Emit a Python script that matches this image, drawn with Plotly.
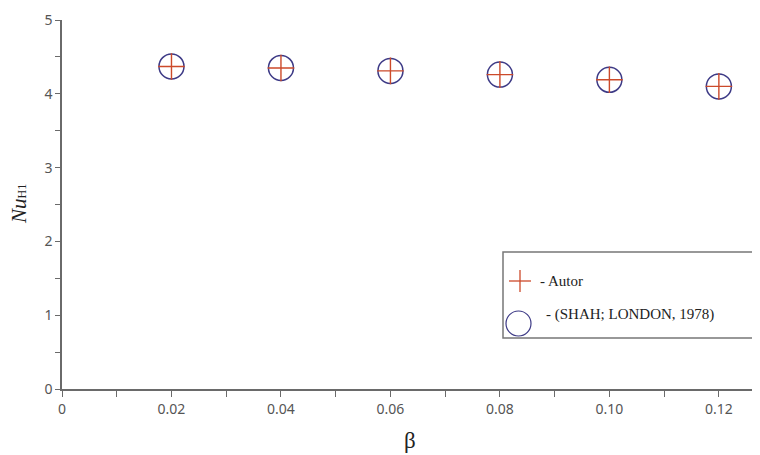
import plotly.graph_objects as go

beta = [0.02, 0.04, 0.06, 0.08, 0.10, 0.12]
nu_autor = [4.37, 4.35, 4.31, 4.26, 4.19, 4.10]
nu_shah = [4.37, 4.35, 4.31, 4.26, 4.19, 4.10]
x_tickvals = [0, 0.02, 0.04, 0.06, 0.08, 0.10, 0.12]
x_ticktext = ["0", "0.02", "0.04", "0.06", "0.08", "0.10", "0.12"]
y_tickvals = [0, 1, 2, 3, 4, 5]

circ_col = "#3d3a86"
cross_col = "#cc4a2a"
axis_col = "#6a6a6a"
tick_font = dict(family="Noto Sans", size=14, color="#555555")

# page has an 8px body margin: figure occupies page pixels 8..760, 8..455
OFF = 8
W, H = 752, 447
ML, MR, MT, MB = 62 - OFF, 5, 20 - OFF, 66

fig = go.Figure()
fig.add_trace(go.Scatter(x=beta, y=nu_shah, mode="markers", name="(SHAH; LONDON, 1978)",
                         marker=dict(symbol="circle-open", size=25, color=circ_col,
                                     line=dict(width=1.5, color=circ_col))))
fig.add_trace(go.Scatter(x=beta, y=nu_autor, mode="markers", name="Autor",
                         marker=dict(symbol="cross-thin-open", size=19, color=cross_col,
                                     line=dict(width=1.4, color=cross_col))))

fig.update_layout(
    width=W, height=H,
    margin=dict(l=ML, r=MR, t=MT, b=MB),
    paper_bgcolor="white", plot_bgcolor="white",
    showlegend=False,
    xaxis=dict(range=[0, 0.1266], tickvals=x_tickvals, ticktext=x_ticktext, automargin=False,
               showgrid=False, zeroline=False, showline=True, linecolor=axis_col, linewidth=1.5,
               ticks="outside", ticklen=6, tickcolor=axis_col, tickwidth=1.2,
               minor=dict(dtick=0.01, tick0=0, ticks="outside", ticklen=6, tickcolor=axis_col, tickwidth=1.2),
               tickfont=tick_font),
    yaxis=dict(range=[0, 5], tickvals=y_tickvals, automargin=False,
               showgrid=False, zeroline=False, showline=True, linecolor=axis_col, linewidth=1.5,
               ticks="outside", ticklen=5, tickcolor=axis_col, tickwidth=1.2,
               minor=dict(dtick=0.5, tick0=0, ticks="outside", ticklen=5, tickcolor=axis_col, tickwidth=1.2),
               tickfont=tick_font),
)

pw = W - ML - MR
ph = H - MT - MB

def px2x(px):
    return (px - OFF - ML) / pw

def py2y(py):
    return (H - MB - (py - OFF)) / ph

# axis titles
fig.add_annotation(xref="paper", yref="paper", x=px2x(410), y=py2y(440), yanchor="middle", xanchor="center",
                   text="β", showarrow=False, font=dict(family="Liberation Serif", size=23, color="#222"))
fig.add_annotation(xref="paper", yref="paper", x=px2x(19), y=py2y(204), xanchor="center", yanchor="middle",
                   text="<i>N</i><i>u</i><span style='font-size:12px'>H1</span>", textangle=-90,
                   showarrow=False, font=dict(family="Liberation Serif", size=21, color="#222"))

# custom legend box
fig.add_shape(type="rect", xref="paper", yref="paper", x0=px2x(503), x1=px2x(756), y0=py2y(338), y1=py2y(252),
              line=dict(color="#777777", width=1.5), fillcolor="white")
# cross icon
fig.add_shape(type="line", xref="paper", yref="paper", x0=px2x(509), x1=px2x(531), y0=py2y(281), y1=py2y(281),
              line=dict(color=cross_col, width=1.3))
fig.add_shape(type="line", xref="paper", yref="paper", x0=px2x(520), x1=px2x(520), y0=py2y(270), y1=py2y(292),
              line=dict(color=cross_col, width=1.3))
# circle icon
fig.add_shape(type="circle", xref="paper", yref="paper", x0=px2x(506), x1=px2x(531), y0=py2y(336), y1=py2y(311),
              line=dict(color=circ_col, width=1.2))
fig.add_annotation(xref="paper", yref="paper", x=px2x(538), y=py2y(281), xanchor="left", yanchor="middle",
                   text="- Autor", showarrow=False, font=dict(family="Liberation Serif", size=15, color="#222"))
fig.add_annotation(xref="paper", yref="paper", x=px2x(544), y=py2y(314), xanchor="left", yanchor="middle",
                   text="- (SHAH; LONDON, 1978)", showarrow=False, font=dict(family="Liberation Serif", size=15, color="#222"))

fig.write_html("out.html")
